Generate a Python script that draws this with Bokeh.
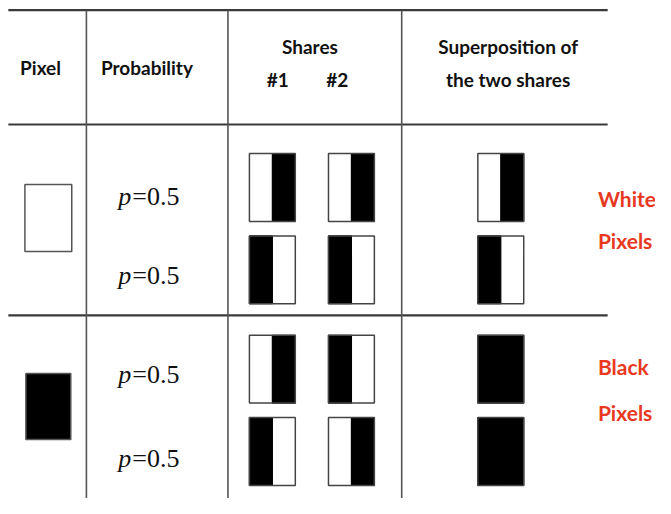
from bokeh.plotting import figure
from bokeh.models import Range1d
from bokeh.core.properties import value
from bokeh.embed import file_html
from bokeh.resources import INLINE

# ---------------- data ----------------
header_pixel = "Pixel"
header_prob = "Probability"
header_shares = "Shares"
share_ids = ["#1", "#2"]
header_super = ["Superposition of", "the two shares"]

secret_pixels = ["white", "black"]           # one per group
probabilities = ["0.5", "0.5", "0.5", "0.5"]  # one per row
# 1 = black sub-pixel, 0 = white sub-pixel
share1 = [[0, 1], [1, 0], [0, 1], [1, 0]]
share2 = [[0, 1], [1, 0], [1, 0], [0, 1]]
superposition = [[0, 1], [1, 0], [1, 1], [1, 1]]
group_labels = [["White", "Pixels"], ["Black", "Pixels"]]

# ---------------- layout (reference pixel coords, 671 x 514) ----------------
W, H = 655, 498
p = figure(width=W, height=H, output_backend="svg", toolbar_location=None,
           x_range=Range1d(0, 671), y_range=Range1d(514, 0),
           min_border=0, outline_line_color=None)
p.axis.visible = False
p.grid.visible = False
p.background_fill_color = "white"
p.border_fill_color = "white"

line_col = "#3a3a3a"
# horizontal rules
h_y = [10, 128, 325]
p.segment(x0=[8] * 3, x1=[622] * 3, y0=h_y, y1=h_y, line_color=line_col, line_width=2.2)
# vertical rules
v_x = [88, 233, 411]
p.segment(x0=v_x, x1=v_x, y0=[10] * 3, y1=[514] * 3, line_color="#555555", line_width=1.6)

hdr_font = value("Lato")
def hdr(x, y, t, size="19px"):
    p.text(x=[x], y=[y], text=[t], text_font=hdr_font, text_font_style="bold",
           text_font_size=size, text_align="center", text_baseline="middle",
           text_color="#111111")

hdr(41, 69, header_pixel)
hdr(150, 69, header_prob)
hdr(317, 47, header_shares)
hdr(284, 82, share_ids[0])
hdr(345, 82, share_ids[1])
hdr(520, 47, header_super[0])
hdr(520, 82, header_super[1])

# secret pixel squares
pix_boxes = [(25, 73, 190, 259), (26, 72, 385, 453)]
for (l, r, t, b), c in zip(pix_boxes, secret_pixels):
    p.quad(left=[l], right=[r], top=[t], bottom=[b], fill_color=c,
           line_color="#555555", line_width=1.5)

# probability texts
row_centers = [193, 278, 380.5, 465.5]
prob_mid = [202, 284, 386, 473]
for ym, pr in zip(prob_mid, probabilities):
    p.text(x=[134], y=[ym], text=["p"], text_font=value("Liberation Serif"),
           text_font_style="italic", text_font_size="26px", text_align="right",
           text_baseline="middle", text_color="#111111")
    p.text(x=[135], y=[ym], text=["=" + pr], text_font=value("Liberation Serif"),
           text_font_size="26px", text_align="left", text_baseline="middle",
           text_color="#111111")

# share boxes
col_left = [255, 336, 489]
bw, bh = 47, 70
bl, br, bt, bb = [], [], [], []
ol, orr, ot, ob = [], [], [], []
for r, yc in enumerate(row_centers):
    for L, pattern in zip(col_left, [share1[r], share2[r], superposition[r]]):
        ol.append(L); orr.append(L + bw); ot.append(yc - bh / 2); ob.append(yc + bh / 2)
        for k, v in enumerate(pattern):
            if v:
                bl.append(L + k * bw / 2)
                br.append(L + (k + 1) * bw / 2)
                bt.append(yc - bh / 2)
                bb.append(yc + bh / 2)
# white base, black sub-pixels (stroked in black to hide seams), grey outline
p.quad(left=ol, right=orr, top=ot, bottom=ob, fill_color="white", line_color=None)
p.quad(left=bl, right=br, top=bt, bottom=bb, fill_color="black",
       line_color="black", line_width=1.2)
p.quad(left=ol, right=orr, top=ot, bottom=ob, fill_color=None,
       line_color="#444444", line_width=1.5)

# red group labels
red = "#e8381e"
lab_pos = [(204, 248), (378, 425)]
for (y1, y2), labs in zip(lab_pos, group_labels):
    for yy, t in zip((y1, y2), labs):
        p.text(x=[612], y=[yy], text=[t], text_font=hdr_font, text_font_style="bold",
               text_font_size="21px", text_align="left", text_baseline="middle",
               text_color=red)

open("out.html", "w").write(file_html(p, INLINE))
